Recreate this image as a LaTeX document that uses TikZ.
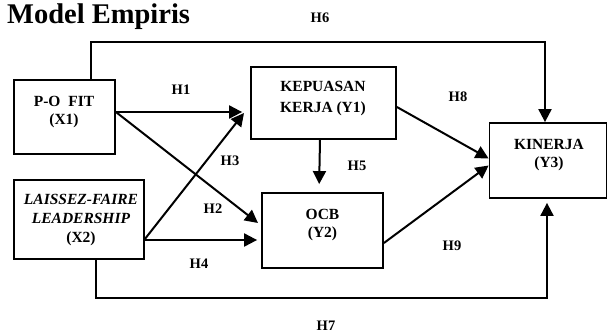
\documentclass[tikz,border=0pt]{standalone}
\usepackage{fontspec}
\setmainfont{Liberation Serif}
\usetikzlibrary{arrows.meta,calc}
\begin{document}
\begin{tikzpicture}[x=1pt,y=-1pt,
  box/.style={draw,line width=1.8pt,rectangle,inner sep=0pt},
  boxtext/.style={align=center,inner sep=0pt,font=\fontsize{15.5}{18.5}\selectfont\bfseries},
  hlab/.style={inner sep=0pt,font=\fontsize{14.5}{16}\selectfont\bfseries},
  arr/.style={line width=2pt,-{Triangle[length=13pt,width=13pt]}},
  ln/.style={line width=2pt}]
\useasboundingbox (0,0) rectangle (608,333);
\node[anchor=base west,inner sep=0pt,font=\fontsize{28.5}{32}\selectfont\bfseries] (title) at (7,23) {Model Empiris};
% boxes
\node[box,minimum width=101pt,minimum height=74pt] (po) at (64.5,117) {};
\node[box,minimum width=130pt,minimum height=79pt] (lf) at (79,219.5) {};
\node[box,minimum width=145pt,minimum height=72pt] (kep) at (323.5,103) {};
\node[box,minimum width=121pt,minimum height=75pt] (ocb) at (322.5,230.5) {};
\node[box,minimum width=117pt,minimum height=75pt] (kin) at (548,160.5) {};
% box texts
\node[boxtext] (pot) at (64,112) {P-O\ \ FIT\\(X1)};
\node[boxtext,font=\fontsize{15.5}{19}\selectfont\bfseries] (lft) at (81,220.5) {\textit{LAISSEZ-FAIRE}\\\textit{LEADERSHIP}\\(X2)};
\node[boxtext,font=\fontsize{15.5}{21}\selectfont\bfseries] (kept) at (323,99) {KEPUASAN\\KERJA (Y1)};
\node[boxtext] (ocbt) at (322.5,225) {OCB\\(Y2)};
\node[boxtext] (kint) at (549,155) {KINERJA\\(Y3)};
% turn points
\coordinate (h6a) at (91,42);
\coordinate (h6b) at (545,42);
\coordinate (h7a) at (96,298);
\coordinate (h7b) at (547,298);
% connectors
\draw[arr] (po.north -| h6a) -- (h6a) -- (h6b) -- (kin.north -| h6b);
\draw[arr,shorten >=4pt] (lf.south -| h7a) -- (h7a) -- (h7b) -- (kin.south -| h7b);
\draw[arr,shorten >=8pt] ([yshift=5pt]po.east) -- ([yshift=-9pt]kep.west);
\draw[arr] ([yshift=5pt]po.east) -- (258,223) coordinate (h2end);
\draw[arr] ([yshift=-19.5pt]lf.east) -- (244,113) coordinate (h3end);
\draw[arr,shorten >=4pt] ([yshift=-20.5pt]lf.east) -- ([yshift=-9.5pt]ocb.west);
\draw[arr,shorten >=8pt] ([xshift=-3.5pt]kep.south) -- ([xshift=-3.5pt]ocb.north);
\draw[arr] ([yshift=-4pt]kep.east) -- ([yshift=2pt]kin.west);
\draw[arr] ([yshift=-12.5pt]ocb.east) -- ([yshift=-5pt]kin.west);
% labels
\node[hlab] (l6) at (320,18) {H6};
\node[hlab] (l1) at (181,89.5) {H1};
\node[hlab] (l3) at (230,161) {H3};
\node[hlab] (l2) at (213,208.5) {H2};
\node[hlab] (l4) at (199,264) {H4};
\node[hlab] (l5) at (357,166) {H5};
\node[hlab] (l8) at (458,96.5) {H8};
\node[hlab] (l9) at (452,245.5) {H9};
\node[hlab] (l7) at (326,325.5) {H7};
\end{tikzpicture}
\end{document}
